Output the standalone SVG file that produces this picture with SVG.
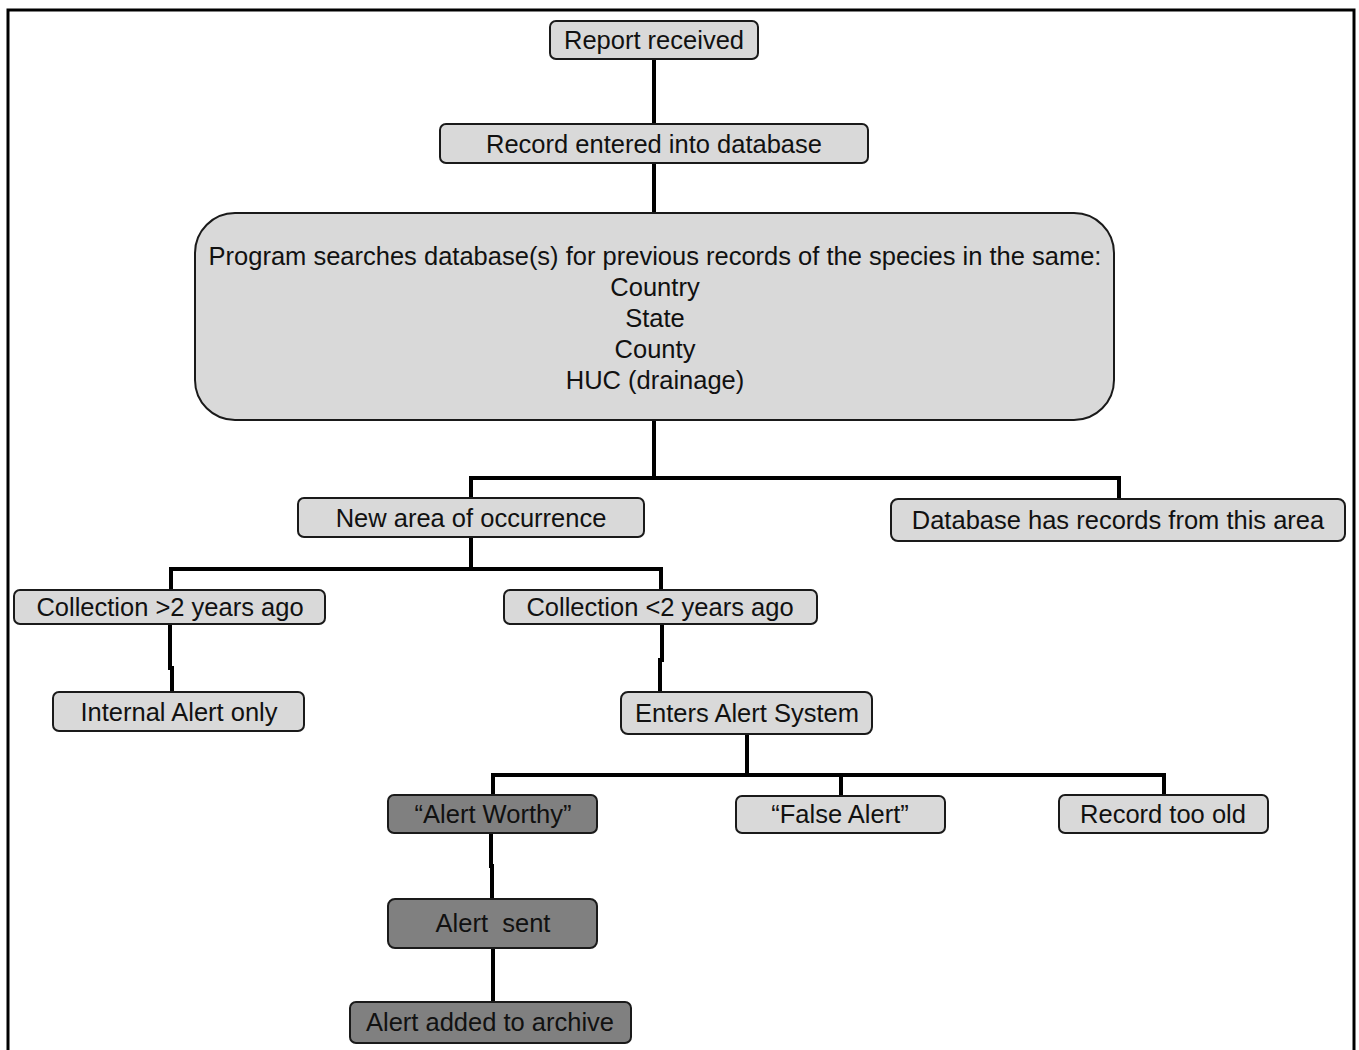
<svg xmlns="http://www.w3.org/2000/svg" width="1359" height="1050" viewBox="0 0 1359 1050">
<style>
.n{fill:#d9d9d9;stroke:#1a1a1a;stroke-width:2}
.d{fill:#808080;stroke:#1a1a1a;stroke-width:2}
text{font-family:"Liberation Sans",Arial,sans-serif;font-size:25.5px;fill:#111;text-anchor:middle;white-space:pre}
.c{fill:none;stroke:#000;stroke-width:4;stroke-linejoin:miter}
</style>
<rect x="0" y="0" width="1359" height="1050" fill="#fff"/>
<rect x="8" y="10" width="1346" height="1060" fill="none" stroke="#000" stroke-width="3"/>
<g id="connectors">
<path class="c" d="M654 59V124M654 163V213M654 420V478"/>
<path class="c" d="M471 498V478H1119V500"/>
<path class="c" d="M471 537V569M171 590V569H661V590"/>
<path class="c" d="M170 624V668H172V692"/>
<path class="c" d="M662 624V660H660V692"/>
<path class="c" d="M747 734V775M493 795V775H1164V795M841 775V796"/>
<path class="c" d="M491 833V866H492V899M493 948V1002"/>
</g>
<g id="report"><rect class="n" x="550" y="21" width="208" height="38" rx="6"/><text x="654" y="49">Report received</text></g>
<g id="record"><rect class="n" x="440" y="124" width="428" height="39" rx="6"/><text x="654" y="152.5">Record entered into database</text></g>
<g id="search"><rect class="n" x="195" y="213" width="919" height="207" rx="40"/>
<text x="655" y="265">Program searches database(s) for previous records of the species in the same:</text>
<text x="655" y="296">Country</text>
<text x="655" y="327">State</text>
<text x="655" y="358">County</text>
<text x="655" y="389">HUC (drainage)</text></g>
<g id="newarea"><rect class="n" x="298" y="498" width="346" height="39" rx="6"/><text x="471" y="526.5">New area of occurrence</text></g>
<g id="hasrecords"><rect class="n" x="891" y="499" width="454" height="42" rx="7"/><text x="1118" y="529">Database has records from this area</text></g>
<g id="older"><rect class="n" x="14" y="590" width="311" height="34" rx="6"/><text x="170" y="616">Collection &gt;2 years ago</text></g>
<g id="newer"><rect class="n" x="504" y="590" width="313" height="34" rx="6"/><text x="660" y="616">Collection &lt;2 years ago</text></g>
<g id="internal"><rect class="n" x="53" y="692" width="251" height="39" rx="6"/><text x="179" y="721">Internal Alert only</text></g>
<g id="enters"><rect class="n" x="621" y="692" width="251" height="42" rx="7"/><text x="747" y="722">Enters Alert System</text></g>
<g id="worthy"><rect class="d" x="388" y="795" width="209" height="38" rx="6"/><text x="493" y="823">“Alert Worthy”</text></g>
<g id="false"><rect class="n" x="736" y="796" width="209" height="37" rx="6"/><text x="840" y="823">“False Alert”</text></g>
<g id="tooold"><rect class="n" x="1059" y="795" width="209" height="38" rx="6"/><text x="1163" y="823">Record too old</text></g>
<g id="sent"><rect class="d" x="388" y="899" width="209" height="49" rx="7"/><text x="493" y="932">Alert  sent</text></g>
<g id="archive"><rect class="d" x="350" y="1002" width="281" height="41" rx="6"/><text x="490" y="1031">Alert added to archive</text></g>
</svg>
